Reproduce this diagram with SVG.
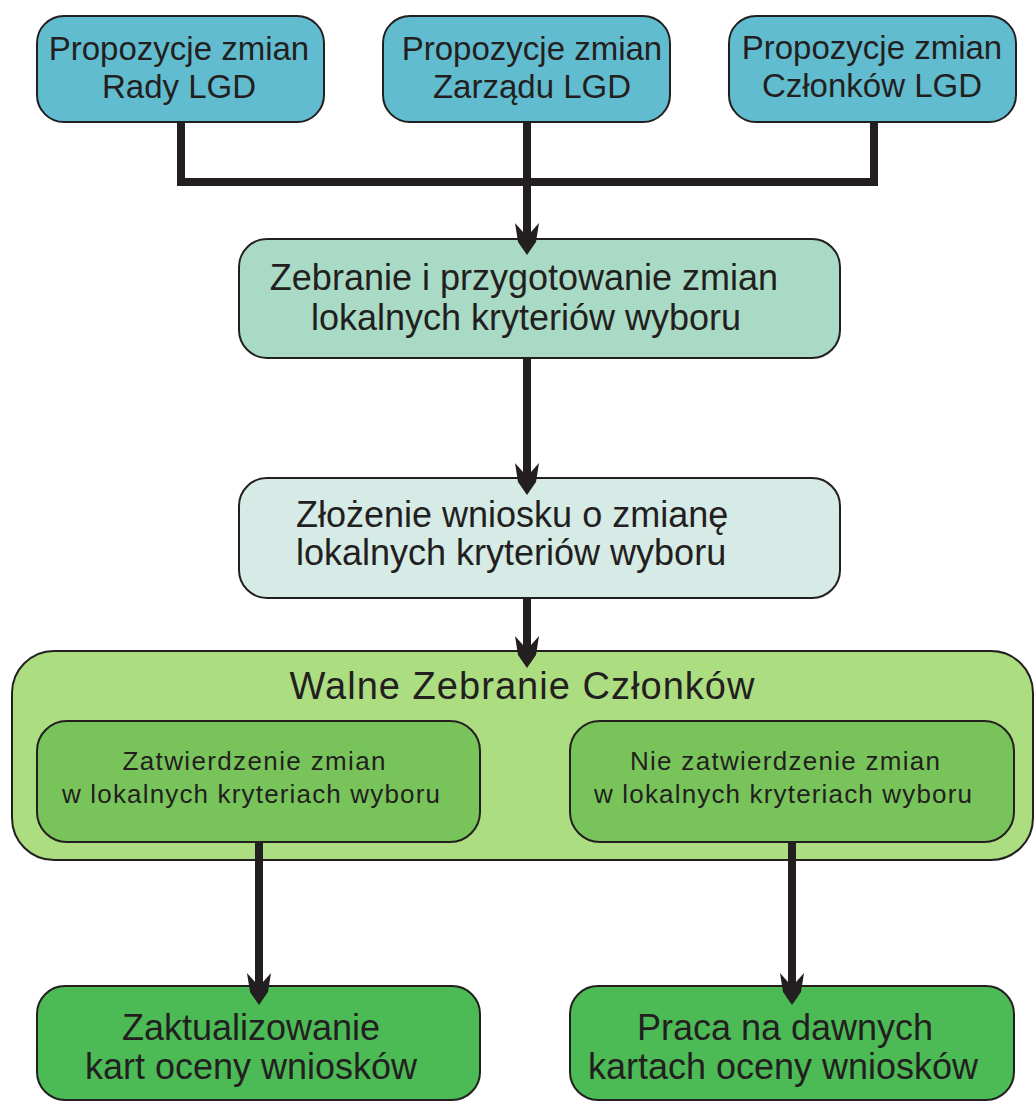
<svg xmlns="http://www.w3.org/2000/svg" width="1035" height="1102" viewBox="0 0 1035 1102">
<defs>
<style>
.box{stroke:#231f20;stroke-width:2}
.t{font-family:"Liberation Sans",Arial,sans-serif;fill:#231f20;text-anchor:middle}
.top{font-size:33px}
.mid{font-size:36px}
.title{font-size:38px}
.small{font-size:26px}
.wire{fill:none;stroke:#231f20;stroke-width:8;stroke-linejoin:miter;stroke-linecap:butt}
.head{fill:#231f20}
</style>
<polygon id="ah" points="0,0 -9,-13 -12,-32 -4,-23 4,-23 12,-32 9,-13"/>
</defs>
<rect width="1035" height="1102" fill="#ffffff"/>

<g id="n1">
<rect class="box" x="37" y="16" width="287" height="106" rx="27" fill="#62bccf"/>
<text class="t top" x="179" y="60">Propozycje zmian</text>
<text class="t top" x="179" y="98">Rady LGD</text>
</g>
<g id="n2">
<rect class="box" x="383" y="16" width="287" height="106" rx="27" fill="#62bccf"/>
<text class="t top" x="532" y="60">Propozycje zmian</text>
<text class="t top" x="532" y="98">Zarządu LGD</text>
</g>
<g id="n3">
<rect class="box" x="729" y="16" width="287" height="106" rx="27" fill="#62bccf"/>
<text class="t top" x="872" y="59">Propozycje zmian</text>
<text class="t top" x="872" y="97">Członków LGD</text>
</g>

<g id="n4">
<rect class="box" x="239" y="239" width="601" height="119" rx="28" fill="#a8dac5"/>
<text class="t mid" x="524" y="290">Zebranie i przygotowanie zmian</text>
<text class="t mid" x="526" y="330">lokalnych kryteriów wyboru</text>
</g>

<g id="n5">
<rect class="box" x="239" y="478" width="601" height="120" rx="28" fill="#d6eae6"/>
<text class="t mid" x="296" y="527" style="text-anchor:start">Złożenie wniosku o zmianę</text>
<text class="t mid" x="296" y="565" style="text-anchor:start">lokalnych kryteriów wyboru</text>
</g>

<g id="n6">
<rect class="box" x="12" y="651" width="1021" height="209" rx="42" fill="#acdd80"/>
<text class="t title" x="522" y="699" textLength="465" lengthAdjust="spacing">Walne Zebranie Członków</text>
</g>
<g id="n7">
<rect class="box" x="37" y="721" width="443" height="121" rx="30" fill="#78c45a"/>
<text class="t small" x="254" y="770" textLength="263" lengthAdjust="spacing">Zatwierdzenie zmian</text>
<text class="t small" x="251" y="803" textLength="378" lengthAdjust="spacing">w lokalnych kryteriach wyboru</text>
</g>
<g id="n8">
<rect class="box" x="570" y="721" width="444" height="121" rx="30" fill="#78c45a"/>
<text class="t small" x="785" y="770" textLength="310" lengthAdjust="spacing">Nie zatwierdzenie zmian</text>
<text class="t small" x="783" y="803" textLength="378" lengthAdjust="spacing">w lokalnych kryteriach wyboru</text>
</g>

<g id="n9">
<rect class="box" x="37" y="986" width="443" height="114" rx="28" fill="#4cba55"/>
<text class="t mid" x="251" y="1040">Zaktualizowanie</text>
<text class="t mid" x="251" y="1079">kart oceny wniosków</text>
</g>
<g id="n10">
<rect class="box" x="570" y="986" width="444" height="114" rx="28" fill="#4cba55"/>
<text class="t mid" x="785" y="1040">Praca na dawnych</text>
<text class="t mid" x="783" y="1079">kartach oceny wniosków</text>
</g>

<g id="connectors">
<polyline class="wire" points="181,122 181,182 874,182 874,122"/>
<line class="wire" x1="527" y1="122" x2="527" y2="232"/>
<use href="#ah" class="head" x="527" y="255"/>
<line class="wire" x1="527" y1="358" x2="527" y2="472"/>
<use href="#ah" class="head" x="527" y="495"/>
<line class="wire" x1="527" y1="598" x2="527" y2="645"/>
<use href="#ah" class="head" x="527" y="668"/>
<line class="wire" x1="259" y1="842" x2="259" y2="982"/>
<use href="#ah" class="head" x="259" y="1005"/>
<line class="wire" x1="792" y1="842" x2="792" y2="982"/>
<use href="#ah" class="head" x="792" y="1005"/>
</g>
</svg>
